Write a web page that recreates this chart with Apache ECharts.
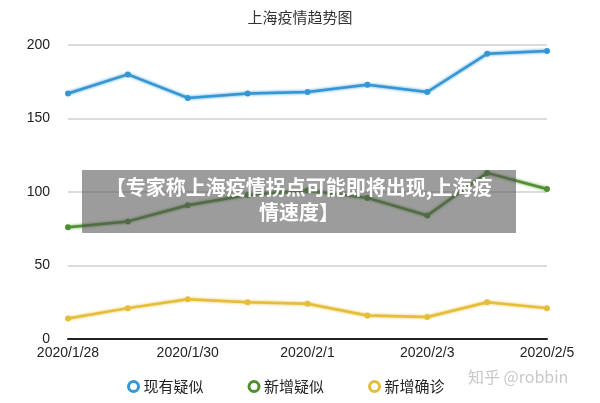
<!DOCTYPE html>
<html><head><meta charset="utf-8">
<script src="https://cdn.jsdelivr.net/npm/echarts@6/dist/echarts.min.js"></script>
<style>html,body{margin:0;padding:0;background:#fff}#c{width:600px;height:403px}</style>
</head><body><div id="c"></div>
<script>
var categories = ['2020/1/28','2020/1/29','2020/1/30','2020/1/31','2020/2/1','2020/2/2','2020/2/3','2020/2/4','2020/2/5'];
var existingSuspected = [167, 180, 164, 167, 168, 173, 168, 194, 196];
var newSuspected = [76, 80, 91, 98, 101, 96, 84, 113, 102];
var newConfirmed = [14, 21, 27, 25, 24, 16, 15, 25, 21];
var yTicks = [0, 50, 100, 150, 200];
var seriesNames = ['现有疑似', '新增疑似', '新增确诊'];
var chartTitle = '上海疫情趋势图';
var overlayText = '【专家称上海疫情拐点可能即将出现,上海疫\n情速度】';
var watermark = '知乎 @robbin';

var colors = ['#3596d4', '#4f8f30', '#e6bd3a'];
var font = '"Noto Sans CJK SC", "Liberation Sans", sans-serif';
var chart = echarts.init(document.getElementById('c'));
function series(name, data, color) {
  return {
    name: name, type: 'line', data: data, symbol: 'circle', symbolSize: 6,
    lineStyle: { color: color, width: 2.5, shadowColor: color, shadowBlur: 3 },
    itemStyle: { color: color }
  };
}
chart.setOption({
  animation: false,
  title: { text: chartTitle, left: 'center', top: 5, textStyle: { fontFamily: font, fontSize: 15, fontWeight: 'normal', color: '#333' } },
  grid: { left: 68, right: 53, top: 45, bottom: 64 },
  xAxis: {
    type: 'category', data: categories, boundaryGap: false,
    axisLine: { lineStyle: { color: '#222', width: 2 } },
    axisTick: { show: false },
    axisLabel: { interval: 1, color: '#222', fontSize: 14, fontFamily: '"Liberation Sans", sans-serif', margin: 7 }
  },
  yAxis: {
    type: 'value', min: yTicks[0], max: yTicks[yTicks.length - 1], interval: 50,
    axisLine: { show: false }, axisTick: { show: false },
    axisLabel: { color: '#222', fontSize: 14, fontFamily: '"Liberation Sans", sans-serif', margin: 18 },
    splitLine: { lineStyle: { color: '#cfcfcf', width: 1.5 } }
  },
  legend: {
    bottom: 4, left: 122, itemGap: 44, icon: 'circle', itemWidth: 10, itemHeight: 10,
    textStyle: { fontFamily: font, fontSize: 15, color: '#222' },
    data: seriesNames.map(function (n, i) {
      return { name: n, itemStyle: { color: '#fff', borderColor: colors[i], borderWidth: 3 } };
    })
  },
  series: [
    series(seriesNames[0], existingSuspected, colors[0]),
    series(seriesNames[1], newSuspected, colors[1]),
    series(seriesNames[2], newConfirmed, colors[2])
  ],
  graphic: [
    { type: 'rect', left: 82, top: 170, shape: { width: 434, height: 63 }, style: { fill: 'rgba(85,85,85,0.58)' }, z: 100 },
    { type: 'text', z: 101, style: { x: 299, y: 175, text: overlayText, fill: '#fff', font: 'bold 20px ' + font, align: 'center', verticalAlign: 'top', lineHeight: 25 } },
    { type: 'text', left: 468, top: 369, style: { text: watermark, fill: '#c8c8c8', font: '16px ' + font }, z: 101 }
  ]
});
</script></body></html>
